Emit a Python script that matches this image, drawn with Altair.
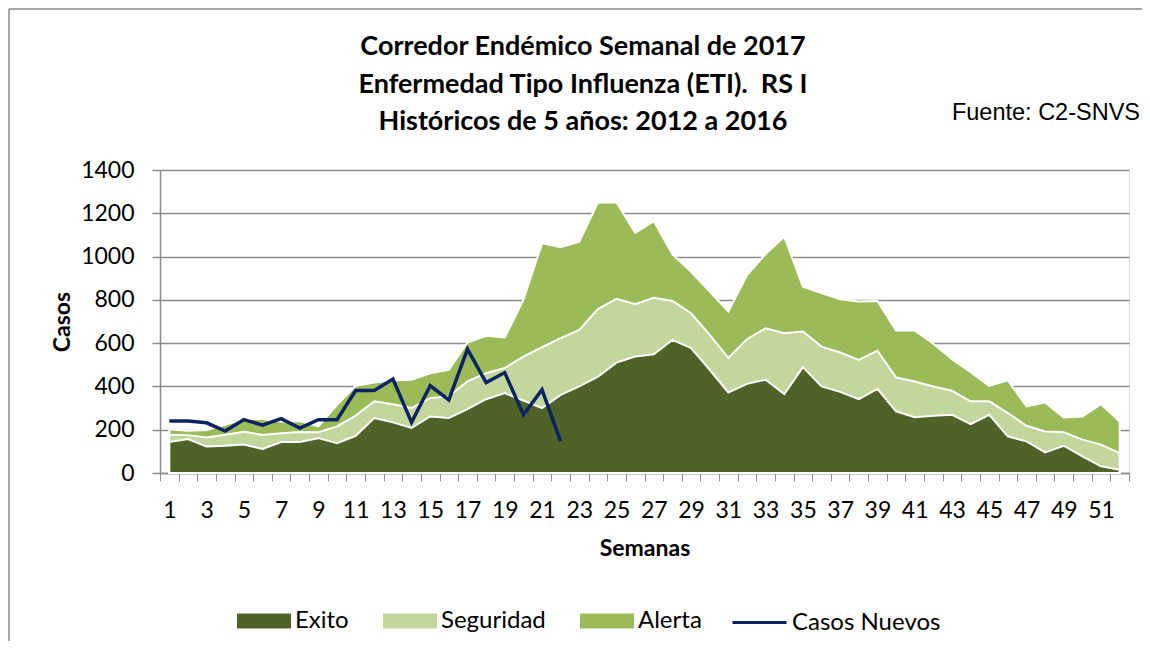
import altair as alt
import pandas as pd

# ---------------- data ----------------
semanas = list(range(1, 53))

exito = [143, 157, 122, 126, 132, 111, 143, 143, 161, 138,
         172, 254, 234, 208, 261, 254, 295, 341, 369, 335,
         300, 361, 400, 445, 510, 538, 549, 615, 577, 477,
         372, 412, 431, 365, 489, 400, 375, 341, 389, 285,
         258, 265, 269, 226, 269, 169, 146, 95, 126, 77,
         31, 15]

seguridad = [177, 175, 164, 177, 190, 176, 184, 189, 188, 215,
             265, 331, 318, 300, 346, 354, 423, 461, 485, 538,
             581, 623, 661, 757, 805, 780, 810, 795, 738, 638,
             531, 618, 669, 646, 654, 584, 557, 523, 565, 441,
             423, 400, 380, 331, 331, 277, 218, 192, 188, 154,
             131, 92]

alerta = [202, 195, 199, 223, 249, 250, 238, 240, 215, 315,
          403, 418, 428, 431, 461, 477, 603, 634, 626, 800,
          1061, 1043, 1069, 1250, 1250, 1110, 1164, 1010, 930, 838,
          746, 915, 1012, 1092, 861, 831, 803, 792, 795, 658,
          658, 597, 526, 466, 403, 428, 308, 326, 257, 261,
          318, 238]

casos_nuevos = [240, 240, 232, 194, 247, 221, 251, 208, 246, 246,
                381, 381, 434, 234, 403, 338, 572, 418, 464, 269,
                385, 146]

series_areas = ["Exito", "Seguridad", "Alerta"]
colores_areas = ["#4F6228", "#C3D69B", "#9BBB59"]
serie_linea = "Casos Nuevos"
color_linea = "#0B2362"

y_ticks = [0, 200, 400, 600, 800, 1000, 1200, 1400]

titulo = ["Corredor Endémico Semanal de 2017",
          "Enfermedad Tipo Influenza (ETI).\u00a0 RS I",
          "Históricos de 5 años: 2012 a 2016"]
fuente = "Fuente: C2-SNVS"

# ---------------- tables ----------------
rows = []
for s, e, g, a in zip(semanas, exito, seguridad, alerta):
    rows.append({"semana": s, "serie": "Exito", "valor": e})
    rows.append({"semana": s, "serie": "Seguridad", "valor": g})
    rows.append({"semana": s, "serie": "Alerta", "valor": a})
areas_df = pd.DataFrame(rows)
line_df = pd.DataFrame({"semana": semanas[:len(casos_nuevos)],
                        "valor": casos_nuevos,
                        "serie": serie_linea})

# ---------------- layout ----------------
W, H = 969, 303
STEP = W / 52.0
FONT = "Lato"
GRAY = "#8C8C8C"

x_axis = alt.Axis(
    values=[i + 0.5 for i in range(0, 53)],
    labelExpr="((datum.value - 0.5) % 2 == 1 && datum.value < 52) ? '' + (datum.value - 0.5) : ''",
    labelOffset=-STEP / 2,
    labelFlush=False,
    labelOverlap=False,
    labelFont=FONT, labelFontSize=23, labelColor="#000000", labelPadding=18,
    tickColor=GRAY, tickSize=8, tickWidth=1,
    domainColor=GRAY, domainWidth=1.5,
    grid=False,
    title="Semanas", titleFont=FONT, titleFontSize=23, titleFontWeight="bold",
    titleColor="#000000", titleX=W / 2, titleY=75, titleBaseline="middle",
    titleAlign="center",
)
y_axis = alt.Axis(
    values=y_ticks, format="d",
    labelFont=FONT, labelFontSize=23, labelColor="#000000", labelPadding=18,
    tickColor=GRAY, tickSize=8, tickWidth=1.5,
    domainColor=GRAY, domainWidth=1.5,
    grid=True, gridColor=GRAY, gridWidth=1.5,
    title="Casos", titleFont=FONT, titleFontSize=23, titleFontWeight="bold",
    titleColor="#000000", titleAngle=270, titleX=-98, titleY=H / 2,
    titleAlign="center", titleBaseline="middle",
)

x_enc = alt.X("semana:Q", scale=alt.Scale(domain=[0.5, 52.5], nice=False, zero=False), axis=x_axis)
y_enc = alt.Y("valor:Q", scale=alt.Scale(domain=[0, 1400], nice=False), axis=y_axis, stack=None)

fill_scale = alt.Scale(domain=series_areas, range=colores_areas)
fill_legend = alt.Legend(
    orient="none", legendX=77, legendY=424, direction="horizontal",
    title=None, symbolType="M-1,-0.28H1V0.28H-1Z", symbolSize=2916,
    symbolStrokeWidth=0, symbolOpacity=1,
    labelFont=FONT, labelFontSize=24, labelColor="#000000", labelOffset=4,
    columnPadding=34,
)


def area_layer(name):
    return alt.Chart(areas_df).transform_filter(
        alt.datum.serie == name
    ).mark_area(stroke="white", strokeWidth=2, opacity=1, fillOpacity=1).encode(
        x=x_enc, y=y_enc,
        fill=alt.Fill("serie:N", scale=fill_scale, legend=fill_legend),
    )


alerta_layer = area_layer("Alerta")
seguridad_layer = area_layer("Seguridad")
exito_layer = area_layer("Exito")

line_layer = alt.Chart(line_df).mark_line(strokeWidth=3.5).encode(
    x=x_enc, y=y_enc,
    stroke=alt.Stroke("serie:N", scale=alt.Scale(domain=[serie_linea], range=[color_linea]),
                      legend=alt.Legend(
                          orient="none", legendX=571, legendY=424, title=None,
                          symbolType="stroke", symbolSize=2916, symbolStrokeWidth=3,
                          labelFont=FONT, labelFontSize=24, labelColor="#000000",
                          labelOffset=4)),
)

title_layer = alt.Chart(pd.DataFrame({"t": ["\n".join(titulo)]})).mark_text(
    font=FONT, fontSize=27, fontWeight="bold", align="center", baseline="middle",
    lineBreak="\n", lineHeight=37.5, color="#000000"
).encode(text="t:N", x=alt.value(423), y=alt.value(-123))

fuente_layer = alt.Chart(pd.DataFrame({"t": [fuente]})).mark_text(
    font="Liberation Sans", fontSize=23.5, align="right", baseline="middle", color="#000000"
).encode(text="t:N", x=alt.value(980), y=alt.value(-57))

border_df = pd.DataFrame({"k": [0]})
border_top = alt.Chart(border_df).mark_rule(stroke="#8A8A8A", strokeWidth=1.5).encode(
    x=alt.value(-151), x2=alt.value(1000), y=alt.value(-161))
border_left = alt.Chart(border_df).mark_rule(stroke="#8A8A8A", strokeWidth=1.5).encode(
    x=alt.value(-151), y=alt.value(-161), y2=alt.value(600))

chart = alt.layer(
    border_top, border_left, alerta_layer, seguridad_layer, exito_layer, line_layer,
    title_layer, fuente_layer
).properties(
    width=W, height=H,
    autosize=alt.AutoSizeParams(type="none"),
    padding={"left": 152, "top": 162, "right": 13, "bottom": 168},
).configure_view(
    fill="#EEF0E7", stroke=None
).configure(background="white")

chart.save("out.html", embed_options={"renderer": "svg", "actions": False})
